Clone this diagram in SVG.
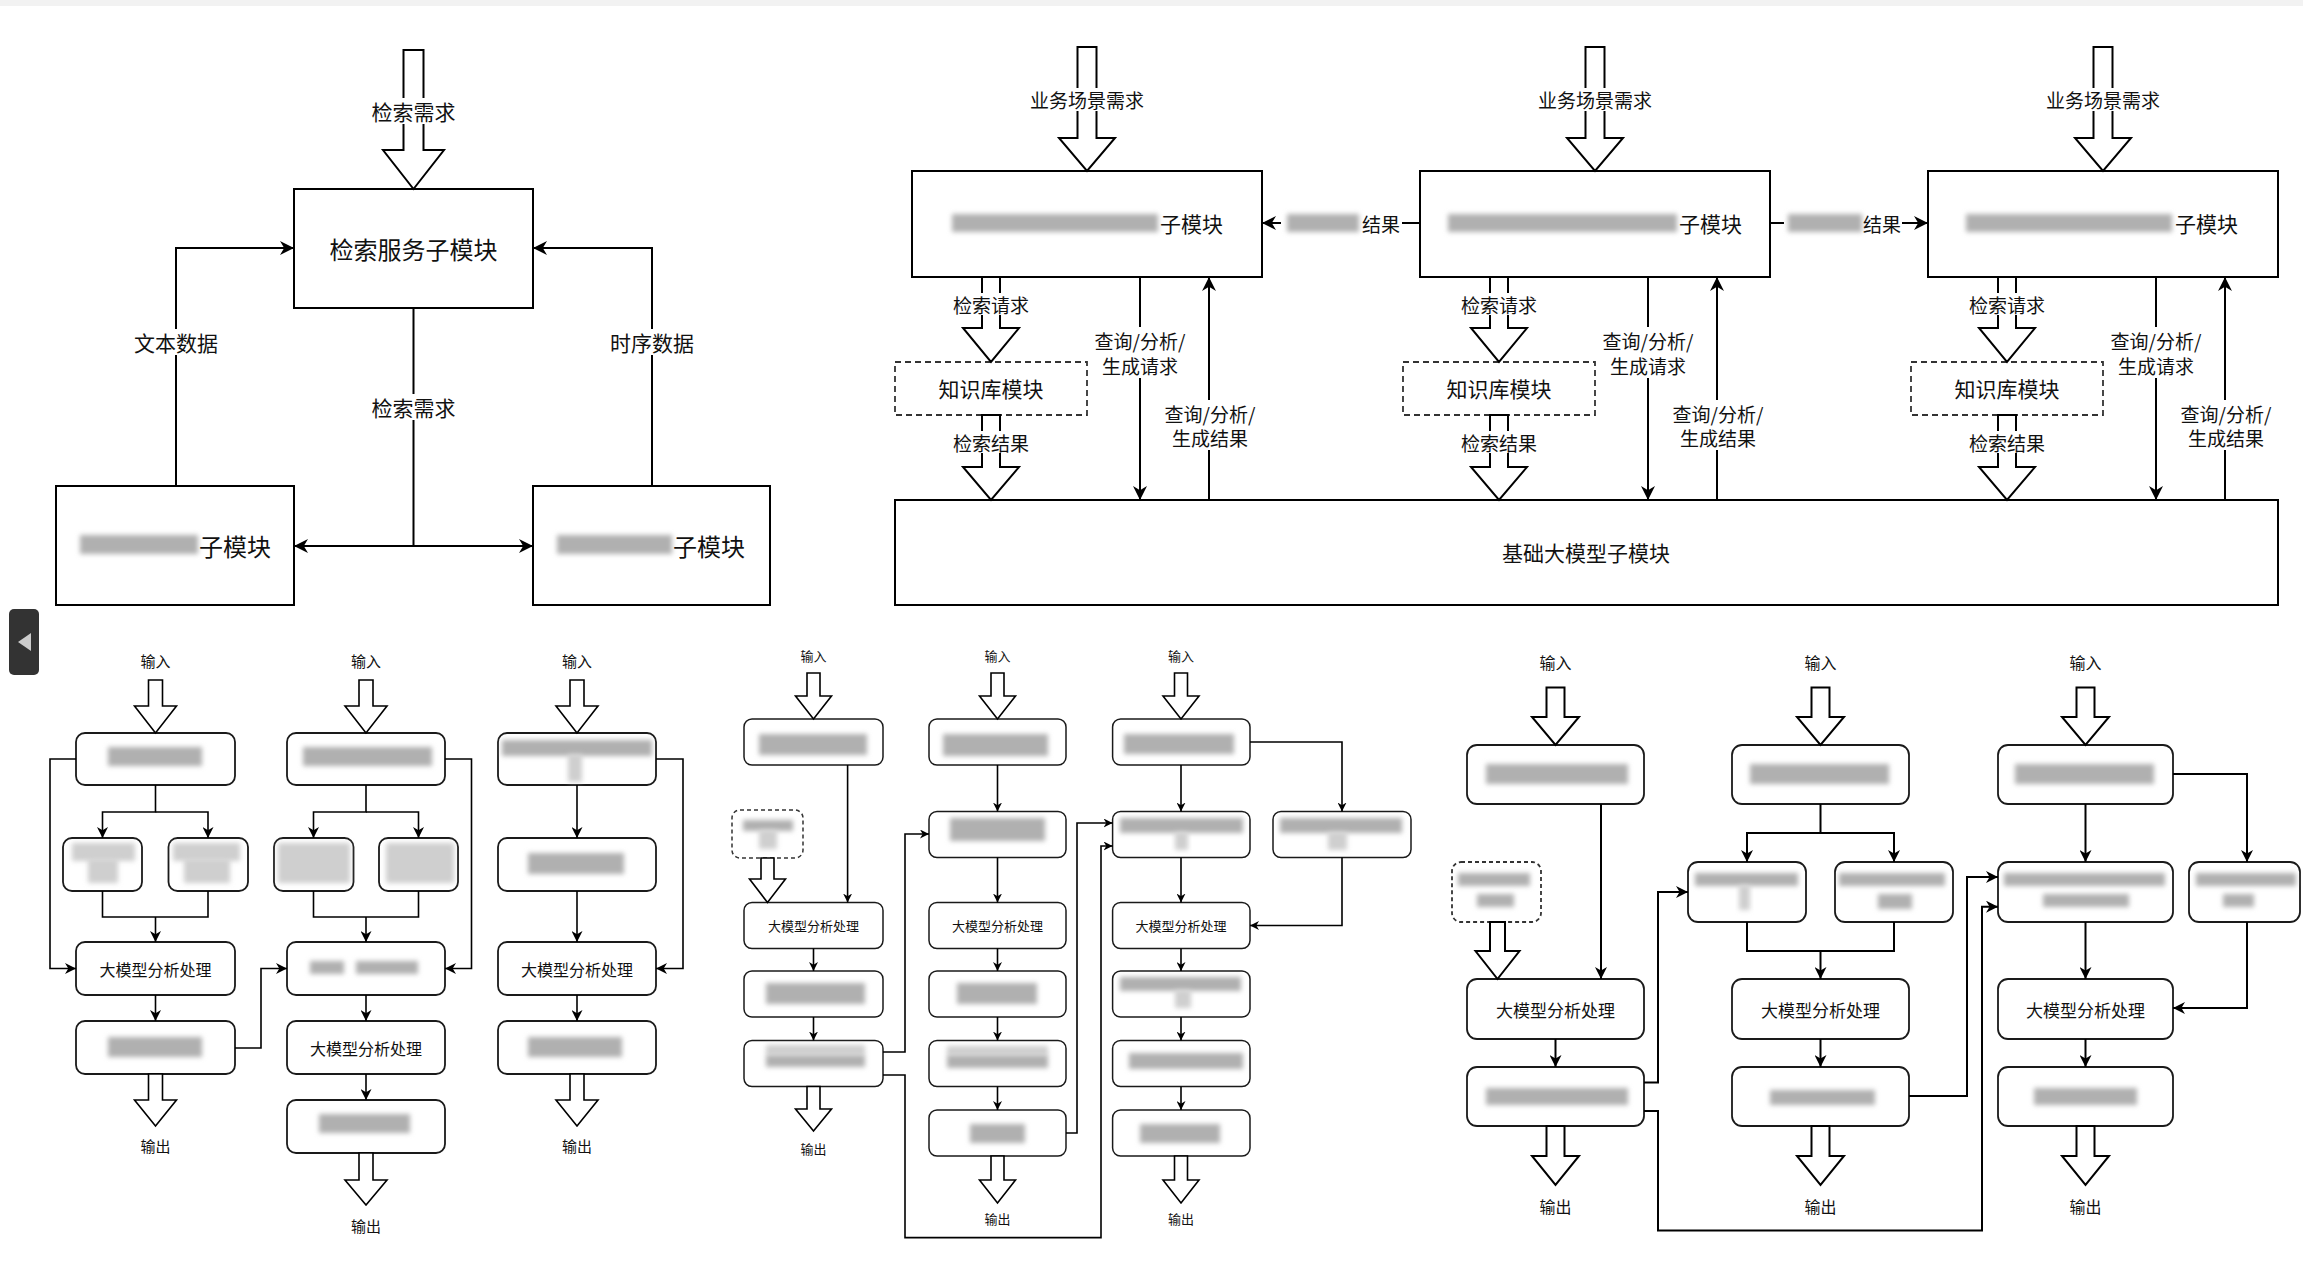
<svg xmlns="http://www.w3.org/2000/svg" width="2303" height="1281" viewBox="0 0 2303 1281">
<defs>
<style>
.box{fill:#fff;stroke:#000;stroke-width:2}
.rb{fill:#fff;stroke:#1a1a1a;stroke-width:1.8}
.rbs{fill:#fff;stroke:#1a1a1a;stroke-width:1.5}
.dash{fill:#fff;stroke:#333;stroke-width:1.8;stroke-dasharray:6 4}
.ba{fill:#fff;stroke:#000;stroke-width:2;stroke-linejoin:miter}
.bas{fill:#fff;stroke:#000;stroke-width:1.6;stroke-linejoin:miter}
.ln{fill:none;stroke:#000;stroke-width:2}
.lns{fill:none;stroke:#000;stroke-width:1.6}
.t{font-family:"Noto Sans CJK SC","Noto Sans",sans-serif;fill:#111;text-anchor:middle;dominant-baseline:central}
.ts{font-family:"Noto Sans CJK SC","Noto Sans",sans-serif;fill:#111;text-anchor:start;dominant-baseline:central}
.bg{fill:#fff}
.bl{fill:#b0b0b0;filter:url(#blur)}
.bll{fill:#cfcfcf;filter:url(#blur)}
</style>
<filter id="blur" x="-30%" y="-80%" width="160%" height="260%"><feGaussianBlur stdDeviation="2.5"/></filter>
<marker id="ah" viewBox="0 0 10 10" refX="10" refY="5" markerWidth="14" markerHeight="14" markerUnits="userSpaceOnUse" orient="auto"><path d="M0,0 L10,5 L0,10 L3,5 Z" fill="#000"/></marker>
<marker id="ahs" viewBox="0 0 10 10" refX="10" refY="5" markerWidth="11" markerHeight="11" markerUnits="userSpaceOnUse" orient="auto"><path d="M0,0 L10,5 L0,10 L3,5 Z" fill="#000"/></marker>
<marker id="ahx" viewBox="0 0 10 10" refX="10" refY="5" markerWidth="9" markerHeight="9" markerUnits="userSpaceOnUse" orient="auto"><path d="M0,0 L10,5 L0,10 L3,5 Z" fill="#000"/></marker>
<marker id="ahc" viewBox="0 0 10 10" refX="10" refY="5" markerWidth="12" markerHeight="12" markerUnits="userSpaceOnUse" orient="auto"><path d="M0,0 L10,5 L0,10 L3,5 Z" fill="#000"/></marker>
</defs>
<rect x="0" y="0" width="2303" height="1281" fill="#fff"/>
<rect x="0" y="0" width="2303" height="6" fill="#f2f2f2"/>
<g id="side-tab"><rect x="9" y="609" width="30" height="66" rx="5" fill="#333"/><polygon points="18,642 31,633 31,651" fill="#ccc"/></g>

<!-- ===== Top-left nodes ===== -->
<g id="tl-search"><rect class="box" x="294" y="189" width="239" height="119"/><text class="t" x="413.5" y="248" font-size="24">检索服务子模块</text></g>
<g id="tl-left"><rect class="box" x="56" y="486" width="238" height="119"/><rect class="bl" x="80" y="535" width="118" height="19"/><text class="ts" x="199" y="545" font-size="24">子模块</text></g>
<g id="tl-right"><rect class="box" x="533" y="486" width="237" height="119"/><rect class="bl" x="557" y="535" width="115" height="19"/><text class="ts" x="673" y="545" font-size="24">子模块</text></g>

<!-- ===== Top-right nodes ===== -->
<g id="tr-box1"><rect class="box" x="912" y="171" width="350" height="106"/><rect class="bl" x="952" y="214" width="206" height="18"/><text class="ts" x="1160" y="223" font-size="21">子模块</text></g>
<g id="tr-box2"><rect class="box" x="1420" y="171" width="350" height="106"/><rect class="bl" x="1448" y="214" width="229" height="18"/><text class="ts" x="1679" y="223" font-size="21">子模块</text></g>
<g id="tr-box3"><rect class="box" x="1928" y="171" width="350" height="106"/><rect class="bl" x="1966" y="214" width="206" height="18"/><text class="ts" x="2175" y="223" font-size="21">子模块</text></g>
<g id="tr-kb1"><rect class="dash" x="895" y="362" width="192" height="53"/><text class="t" x="991" y="388" font-size="21">知识库模块</text></g>
<g id="tr-kb2"><rect class="dash" x="1403" y="362" width="192" height="53"/><text class="t" x="1499" y="388" font-size="21">知识库模块</text></g>
<g id="tr-kb3"><rect class="dash" x="1911" y="362" width="192" height="53"/><text class="t" x="2007" y="388" font-size="21">知识库模块</text></g>
<g id="tr-base"><rect class="box" x="895" y="500" width="1383" height="105"/><text class="t" x="1586" y="552" font-size="21">基础大模型子模块</text></g>

<!-- ===== Section A nodes ===== -->
<g id="a1"><rect class="rb" x="76" y="733" width="159" height="52" rx="9"/><rect class="bl" x="108" y="747" width="94" height="19"/></g>
<g id="a2l"><rect class="rb" x="63" y="838" width="79" height="53" rx="9"/><rect class="bll" x="72" y="843" width="63" height="18"/><rect class="bll" x="88" y="859" width="30" height="24"/></g>
<g id="a2r"><rect class="rb" x="168.5" y="838" width="79.5" height="53" rx="9"/><rect class="bll" x="173" y="843" width="67" height="18"/><rect class="bll" x="184" y="859" width="46" height="24"/></g>
<g id="a3"><rect class="rb" x="76" y="942" width="159" height="53" rx="9"/><text class="t" x="155.5" y="968.5" font-size="16">大模型分析处理</text></g>
<g id="a4"><rect class="rb" x="76" y="1021" width="159" height="53" rx="9"/><rect class="bl" x="108" y="1037" width="94" height="20"/></g>

<g id="b1"><rect class="rb" x="287" y="733" width="158" height="52" rx="9"/><rect class="bl" x="303" y="747" width="129" height="19"/></g>
<g id="b2l"><rect class="rb" x="274" y="838" width="79.5" height="53" rx="9"/><rect class="bll" x="278" y="843" width="72" height="40"/></g>
<g id="b2r"><rect class="rb" x="379" y="838" width="79" height="53" rx="9"/><rect class="bll" x="386" y="843" width="68" height="40"/></g>
<g id="b3"><rect class="rb" x="287" y="942" width="158" height="53" rx="9"/><rect class="bl" x="310" y="961" width="34" height="13"/><rect class="bl" x="356" y="961" width="62" height="13"/></g>
<g id="b4"><rect class="rb" x="287" y="1021" width="158" height="53" rx="9"/><text class="t" x="366" y="1047.5" font-size="16">大模型分析处理</text></g>
<g id="b5"><rect class="rb" x="287" y="1100" width="158" height="53" rx="9"/><rect class="bl" x="319" y="1114" width="91" height="19"/></g>

<g id="c1"><rect class="rb" x="498" y="733" width="158" height="52" rx="9"/><rect class="bl" x="502" y="740" width="150" height="16"/><rect class="bll" x="568" y="754" width="14" height="28"/></g>
<g id="c2"><rect class="rb" x="498" y="838" width="158" height="53" rx="9"/><rect class="bl" x="528" y="853" width="96" height="21"/></g>
<g id="c3"><rect class="rb" x="498" y="942" width="158" height="53" rx="9"/><text class="t" x="577" y="968.5" font-size="16">大模型分析处理</text></g>
<g id="c4"><rect class="rb" x="498" y="1021" width="158" height="53" rx="9"/><rect class="bl" x="528" y="1037" width="94" height="20"/></g>

<!-- ===== Section B nodes ===== -->
<g id="d1"><rect class="rbs" x="744" y="719" width="139" height="46" rx="8"/><rect class="bl" x="759" y="734" width="108" height="21"/></g>
<g id="d-kb"><rect class="dash" x="732" y="810" width="71" height="48" rx="8" style="stroke-width:1.5;stroke-dasharray:4 3"/><rect class="bl" x="743" y="820" width="50" height="11"/><rect class="bll" x="759" y="830" width="18" height="19"/></g>
<g id="d2"><rect class="rbs" x="744" y="902.5" width="139" height="46" rx="8"/><text class="t" x="813.5" y="925.5" font-size="13">大模型分析处理</text></g>
<g id="d3"><rect class="rbs" x="744" y="971" width="139" height="46" rx="8"/><rect class="bl" x="766" y="983" width="99" height="21"/></g>
<g id="d4"><rect class="rbs" x="744" y="1040.5" width="139" height="46" rx="8"/><rect class="bll" x="766" y="1045" width="99" height="10"/><rect class="bl" x="766" y="1055" width="99" height="12"/></g>

<g id="e1"><rect class="rbs" x="929" y="719" width="137" height="46" rx="8"/><rect class="bl" x="943" y="734" width="105" height="22"/></g>
<g id="e2"><rect class="rbs" x="929" y="811.5" width="137" height="46" rx="8"/><rect class="bl" x="950" y="818" width="95" height="23"/></g>
<g id="e3"><rect class="rbs" x="929" y="902.5" width="137" height="46" rx="8"/><text class="t" x="997.5" y="925.5" font-size="13">大模型分析处理</text></g>
<g id="e4"><rect class="rbs" x="929" y="971" width="137" height="46" rx="8"/><rect class="bl" x="957" y="983" width="80" height="21"/></g>
<g id="e5"><rect class="rbs" x="929" y="1040.5" width="137" height="46" rx="8"/><rect class="bll" x="947" y="1046" width="101" height="9"/><rect class="bl" x="947" y="1055" width="101" height="13"/></g>
<g id="e6"><rect class="rbs" x="929" y="1110" width="137" height="46" rx="8"/><rect class="bl" x="970" y="1124" width="55" height="19"/></g>

<g id="f1"><rect class="rbs" x="1112.6" y="719" width="137.4" height="46" rx="8"/><rect class="bl" x="1124" y="734" width="110" height="20"/></g>
<g id="f2"><rect class="rbs" x="1112.6" y="811.5" width="137.4" height="46" rx="8"/><rect class="bl" x="1120" y="818" width="123" height="15"/><rect class="bll" x="1175" y="832" width="13" height="18"/></g>
<g id="f3"><rect class="rbs" x="1112.6" y="902.5" width="137.4" height="46" rx="8"/><text class="t" x="1181" y="925.5" font-size="13">大模型分析处理</text></g>
<g id="f4"><rect class="rbs" x="1112.6" y="971" width="137.4" height="46" rx="8"/><rect class="bl" x="1120" y="977" width="121" height="14"/><rect class="bll" x="1175" y="990" width="16" height="18"/></g>
<g id="f5"><rect class="rbs" x="1112.6" y="1040.5" width="137.4" height="46" rx="8"/><rect class="bl" x="1129" y="1053" width="114" height="16"/></g>
<g id="f6"><rect class="rbs" x="1112.6" y="1110" width="137.4" height="46" rx="8"/><rect class="bl" x="1140" y="1124" width="80" height="19"/></g>
<g id="g1"><rect class="rbs" x="1273" y="811.5" width="138" height="46" rx="8"/><rect class="bl" x="1280" y="818" width="122" height="15"/><rect class="bll" x="1328" y="832" width="19" height="18"/></g>

<!-- ===== Section C nodes ===== -->
<g id="h1"><rect class="rb" x="1467" y="745" width="177" height="59" rx="10"/><rect class="bl" x="1486" y="764" width="142" height="20"/></g>
<g id="h-kb"><rect class="dash" x="1452" y="862" width="89" height="60" rx="9" style="stroke-dasharray:4 3"/><rect class="bl" x="1458" y="873" width="72" height="13"/><rect class="bl" x="1477" y="894" width="37" height="13"/></g>
<g id="h2"><rect class="rb" x="1467" y="979" width="177" height="60" rx="10"/><text class="t" x="1555.5" y="1009" font-size="17">大模型分析处理</text></g>
<g id="h3"><rect class="rb" x="1467" y="1067" width="177" height="59" rx="10"/><rect class="bl" x="1486" y="1088" width="142" height="17"/></g>

<g id="i1"><rect class="rb" x="1732" y="745" width="177" height="59" rx="10"/><rect class="bl" x="1750" y="764" width="139" height="20"/></g>
<g id="i2a"><rect class="rb" x="1688" y="862" width="118" height="60" rx="10"/><rect class="bl" x="1695" y="873" width="103" height="13"/><rect class="bll" x="1739" y="885" width="11" height="25"/></g>
<g id="i2b"><rect class="rb" x="1835" y="862" width="118" height="60" rx="10"/><rect class="bl" x="1839" y="873" width="106" height="13"/><rect class="bl" x="1878" y="894" width="34" height="15"/></g>
<g id="i3"><rect class="rb" x="1732" y="979" width="177" height="60" rx="10"/><text class="t" x="1820.5" y="1009" font-size="17">大模型分析处理</text></g>
<g id="i4"><rect class="rb" x="1732" y="1067" width="177" height="59" rx="10"/><rect class="bl" x="1770" y="1090" width="105" height="15"/></g>

<g id="j1"><rect class="rb" x="1998" y="745" width="175" height="59" rx="10"/><rect class="bl" x="2015" y="764" width="139" height="20"/></g>
<g id="j2"><rect class="rb" x="1998" y="862" width="175" height="60" rx="10"/><rect class="bl" x="2004" y="873" width="161" height="13"/><rect class="bl" x="2043" y="894" width="86" height="13"/></g>
<g id="j3"><rect class="rb" x="1998" y="979" width="175" height="60" rx="10"/><text class="t" x="2085.5" y="1009" font-size="17">大模型分析处理</text></g>
<g id="j4"><rect class="rb" x="1998" y="1067" width="175" height="59" rx="10"/><rect class="bl" x="2034" y="1088" width="103" height="17"/></g>
<g id="k1"><rect class="rb" x="2189" y="862" width="111" height="60" rx="10"/><rect class="bl" x="2196" y="873" width="100" height="13"/><rect class="bl" x="2223" y="894" width="31" height="13"/></g>

<!-- ===== Connectors ===== -->
<g id="connectors">
<!-- top-left -->
<path class="ba" d="M403.5,50 H423.5 V150 H444 L413.5,189 L383,150 H403.5 Z"/>
<rect class="bg" x="369" y="98" width="89" height="26"/><text class="t" x="413.5" y="111" font-size="21">检索需求</text>
<path class="ln" d="M176,486 V248 H294" marker-end="url(#ah)"/>
<path class="ln" d="M652,486 V248 H533" marker-end="url(#ah)"/>
<path class="ln" d="M413.5,308 V546 H294" marker-end="url(#ah)"/>
<path class="ln" d="M413.5,546 H533" marker-end="url(#ah)"/>
<rect class="bg" x="131" y="329" width="90" height="26"/><text class="t" x="176" y="342" font-size="21">文本数据</text>
<rect class="bg" x="607" y="329" width="90" height="26"/><text class="t" x="652" y="342" font-size="21">时序数据</text>
<rect class="bg" x="369" y="394" width="89" height="26"/><text class="t" x="413.5" y="407" font-size="21">检索需求</text>

<!-- top-right -->
<path class="ba" d="M1077.5,47 H1096.5 V138 H1115 L1087,171 L1059,138 H1077.5 Z"/>
<path class="ba" d="M1585.5,47 H1604.5 V138 H1623 L1595,171 L1567,138 H1585.5 Z"/>
<path class="ba" d="M2093.5,47 H2112.5 V138 H2131 L2103,171 L2075,138 H2093.5 Z"/>
<rect class="bg" x="1029" y="88" width="116" height="23"/><text class="t" x="1087" y="99" font-size="19">业务场景需求</text>
<rect class="bg" x="1537" y="88" width="116" height="23"/><text class="t" x="1595" y="99" font-size="19">业务场景需求</text>
<rect class="bg" x="2045" y="88" width="116" height="23"/><text class="t" x="2103" y="99" font-size="19">业务场景需求</text>

<path class="ln" d="M1420,223 H1262" marker-end="url(#ah)"/>
<rect class="bg" x="1281" y="211" width="121" height="24"/><rect class="bl" x="1287" y="214" width="72" height="18"/><text class="ts" x="1362" y="223" font-size="19">结果</text>
<path class="ln" d="M1770,223 H1928" marker-end="url(#ah)"/>
<rect class="bg" x="1784" y="211" width="118" height="24"/><rect class="bl" x="1788" y="214" width="74" height="18"/><text class="ts" x="1863" y="223" font-size="19">结果</text>

<path class="ba" d="M982,277 H1000 V328 H1019 L991,362 L963,328 H982 Z"/>
<path class="ba" d="M1490,277 H1508 V328 H1527 L1499,362 L1471,328 H1490 Z"/>
<path class="ba" d="M1998,277 H2016 V328 H2035 L2007,362 L1979,328 H1998 Z"/>
<path class="ba" d="M982,415 H1000 V467 H1019 L991,500 L963,467 H982 Z"/>
<path class="ba" d="M1490,415 H1508 V467 H1527 L1499,500 L1471,467 H1490 Z"/>
<path class="ba" d="M1998,415 H2016 V467 H2035 L2007,500 L1979,467 H1998 Z"/>
<rect class="bg" x="952" y="293" width="78" height="22"/><text class="t" x="991" y="304" font-size="19">检索请求</text>
<rect class="bg" x="1460" y="293" width="78" height="22"/><text class="t" x="1499" y="304" font-size="19">检索请求</text>
<rect class="bg" x="1968" y="293" width="78" height="22"/><text class="t" x="2007" y="304" font-size="19">检索请求</text>
<rect class="bg" x="952" y="431" width="78" height="22"/><text class="t" x="991" y="442" font-size="19">检索结果</text>
<rect class="bg" x="1460" y="431" width="78" height="22"/><text class="t" x="1499" y="442" font-size="19">检索结果</text>
<rect class="bg" x="1968" y="431" width="78" height="22"/><text class="t" x="2007" y="442" font-size="19">检索结果</text>

<path class="ln" d="M1140,277 V500" marker-end="url(#ah)"/>
<path class="ln" d="M1209,500 V277" marker-end="url(#ah)"/>
<path class="ln" d="M1648,277 V500" marker-end="url(#ah)"/>
<path class="ln" d="M1717,500 V277" marker-end="url(#ah)"/>
<path class="ln" d="M2156,277 V500" marker-end="url(#ah)"/>
<path class="ln" d="M2225,500 V277" marker-end="url(#ah)"/>
<rect class="bg" x="1094" y="327" width="92" height="51"/><text class="t" x="1140" y="340" font-size="19">查询/分析/</text><text class="t" x="1140" y="365" font-size="19">生成请求</text>
<rect class="bg" x="1164" y="400" width="92" height="50"/><text class="t" x="1210" y="413" font-size="19">查询/分析/</text><text class="t" x="1210" y="437" font-size="19">生成结果</text>
<rect class="bg" x="1602" y="327" width="92" height="51"/><text class="t" x="1648" y="340" font-size="19">查询/分析/</text><text class="t" x="1648" y="365" font-size="19">生成请求</text>
<rect class="bg" x="1672" y="400" width="92" height="50"/><text class="t" x="1718" y="413" font-size="19">查询/分析/</text><text class="t" x="1718" y="437" font-size="19">生成结果</text>
<rect class="bg" x="2110" y="327" width="92" height="51"/><text class="t" x="2156" y="340" font-size="19">查询/分析/</text><text class="t" x="2156" y="365" font-size="19">生成请求</text>
<rect class="bg" x="2180" y="400" width="92" height="50"/><text class="t" x="2226" y="413" font-size="19">查询/分析/</text><text class="t" x="2226" y="437" font-size="19">生成结果</text>

<!-- Section A -->
<text class="t" x="155.5" y="660" font-size="15">输入</text>
<text class="t" x="366" y="660" font-size="15">输入</text>
<text class="t" x="577" y="660" font-size="15">输入</text>
<path class="bas" d="M148.5,680 H162.5 V706 H176.5 L155.5,733 L134.5,706 H148.5 Z"/>
<path class="bas" d="M359,680 H373 V706 H387 L366,733 L345,706 H359 Z"/>
<path class="bas" d="M570,680 H584 V706 H598 L577,733 L556,706 H570 Z"/>
<path class="bas" d="M148.5,1074 H162.5 V1100 H176.5 L155.5,1126 L134.5,1100 H148.5 Z"/>
<path class="bas" d="M359,1153 H373 V1180 H387 L366,1205 L345,1180 H359 Z"/>
<path class="bas" d="M570,1074 H584 V1100 H598 L577,1126 L556,1100 H570 Z"/>
<text class="t" x="155.5" y="1145" font-size="15">输出</text>
<text class="t" x="366" y="1225" font-size="15">输出</text>
<text class="t" x="577" y="1145" font-size="15">输出</text>

<path class="lns" d="M155.5,785 V812 H102.5 V838" marker-end="url(#ahs)"/>
<path class="lns" d="M155.5,812 H208 V838" marker-end="url(#ahs)"/>
<path class="lns" d="M102.5,891 V917 H208 V891"/>
<path class="lns" d="M155.5,917 V942" marker-end="url(#ahs)"/>
<path class="lns" d="M76,759 H50 V968.5 H76" marker-end="url(#ahs)"/>
<path class="lns" d="M155.5,995 V1021" marker-end="url(#ahs)"/>
<path class="lns" d="M235,1048 H261 V968.5 H287" marker-end="url(#ahs)"/>

<path class="lns" d="M366,785 V812 H313.5 V838" marker-end="url(#ahs)"/>
<path class="lns" d="M366,812 H418.5 V838" marker-end="url(#ahs)"/>
<path class="lns" d="M313.5,891 V917 H418.5 V891"/>
<path class="lns" d="M366,917 V942" marker-end="url(#ahs)"/>
<path class="lns" d="M445,759 H471.5 V968.5 H445" marker-end="url(#ahs)"/>
<path class="lns" d="M366,995 V1021" marker-end="url(#ahs)"/>
<path class="lns" d="M366,1074 V1100" marker-end="url(#ahs)"/>

<path class="lns" d="M577,785 V838" marker-end="url(#ahs)"/>
<path class="lns" d="M577,891 V942" marker-end="url(#ahs)"/>
<path class="lns" d="M656,759 H683 V968.5 H656" marker-end="url(#ahs)"/>
<path class="lns" d="M577,995 V1021" marker-end="url(#ahs)"/>

<!-- Section B -->
<text class="t" x="813.5" y="655" font-size="13">输入</text>
<text class="t" x="997.5" y="655" font-size="13">输入</text>
<text class="t" x="1181" y="655" font-size="13">输入</text>
<path class="bas" d="M807,673 H820 V696 H831.5 L813.5,719 L795.5,696 H807 Z"/>
<path class="bas" d="M991,673 H1004 V696 H1015.5 L997.5,719 L979.5,696 H991 Z"/>
<path class="bas" d="M1174.5,673 H1187.5 V696 H1199 L1181,719 L1163,696 H1174.5 Z"/>
<path class="bas" d="M761,858 H774 V879 H785.5 L767.5,902.5 L749.5,879 H761 Z"/>
<path class="bas" d="M807,1086.5 H820 V1109 H831.5 L813.5,1131 L795.5,1109 H807 Z"/>
<path class="bas" d="M991,1156 H1004 V1180 H1015.5 L997.5,1203 L979.5,1180 H991 Z"/>
<path class="bas" d="M1174.5,1156 H1187.5 V1180 H1199 L1181,1203 L1163,1180 H1174.5 Z"/>
<text class="t" x="813.5" y="1148" font-size="13">输出</text>
<text class="t" x="997.5" y="1218" font-size="13">输出</text>
<text class="t" x="1181" y="1218" font-size="13">输出</text>

<path class="lns" d="M847.6,765 V902.5" marker-end="url(#ahx)"/>
<path class="lns" d="M813.5,948.5 V971" marker-end="url(#ahx)"/>
<path class="lns" d="M813.5,1017 V1040.5" marker-end="url(#ahx)"/>
<path class="lns" d="M883,1052 H905 V834 H929" marker-end="url(#ahx)"/>
<path class="lns" d="M883,1075 H905 V1237.6 H1101 V846 H1112.6" marker-end="url(#ahx)"/>

<path class="lns" d="M997.5,765 V811.5" marker-end="url(#ahx)"/>
<path class="lns" d="M997.5,857.5 V902.5" marker-end="url(#ahx)"/>
<path class="lns" d="M997.5,948.5 V971" marker-end="url(#ahx)"/>
<path class="lns" d="M997.5,1017 V1040.5" marker-end="url(#ahx)"/>
<path class="lns" d="M997.5,1086.5 V1110" marker-end="url(#ahx)"/>
<path class="lns" d="M1066,1133 H1077 V823 H1112.6" marker-end="url(#ahx)"/>

<path class="lns" d="M1181,765 V811.5" marker-end="url(#ahx)"/>
<path class="lns" d="M1181,857.5 V902.5" marker-end="url(#ahx)"/>
<path class="lns" d="M1181,948.5 V971" marker-end="url(#ahx)"/>
<path class="lns" d="M1181,1017 V1040.5" marker-end="url(#ahx)"/>
<path class="lns" d="M1181,1086.5 V1110" marker-end="url(#ahx)"/>
<path class="lns" d="M1250,742 H1342 V811.5" marker-end="url(#ahx)"/>
<path class="lns" d="M1342,857.5 V925.5 H1250" marker-end="url(#ahx)"/>

<!-- Section C -->
<text class="t" x="1555.5" y="662" font-size="16">输入</text>
<text class="t" x="1820.5" y="662" font-size="16">输入</text>
<text class="t" x="2085.5" y="662" font-size="16">输入</text>
<path class="ba" d="M1546.5,687.5 H1564.5 V717 H1579 L1555.5,745 L1532,717 H1546.5 Z"/>
<path class="ba" d="M1811.5,687.5 H1829.5 V717 H1844 L1820.5,745 L1797,717 H1811.5 Z"/>
<path class="ba" d="M2076.5,687.5 H2094.5 V717 H2109 L2085.5,745 L2062,717 H2076.5 Z"/>
<path class="ba" d="M1490,922 H1505 V951 H1519.5 L1497.5,979 L1475.5,951 H1490 Z"/>
<path class="ba" d="M1546.5,1126 H1564.5 V1156 H1579 L1555.5,1185 L1532,1156 H1546.5 Z"/>
<path class="ba" d="M1811.5,1126 H1829.5 V1156 H1844 L1820.5,1185 L1797,1156 H1811.5 Z"/>
<path class="ba" d="M2076.5,1126 H2094.5 V1156 H2109 L2085.5,1185 L2062,1156 H2076.5 Z"/>
<text class="t" x="1555.5" y="1206" font-size="16">输出</text>
<text class="t" x="1820.5" y="1206" font-size="16">输出</text>
<text class="t" x="2085.5" y="1206" font-size="16">输出</text>

<path class="ln" d="M1601,804 V979" marker-end="url(#ahc)"/>
<path class="ln" d="M1555.5,1039 V1067" marker-end="url(#ahc)"/>
<path class="ln" d="M1644,1082.5 H1658 V892 H1688" marker-end="url(#ahc)"/>
<path class="ln" d="M1644,1111 H1658 V1230.5 H1982 V906.7 H1998" marker-end="url(#ahc)"/>

<path class="ln" d="M1820.5,804 V833 H1747 V862" marker-end="url(#ahc)"/>
<path class="ln" d="M1820.5,833 H1894 V862" marker-end="url(#ahc)"/>
<path class="ln" d="M1747,922 V951 H1894 V922"/>
<path class="ln" d="M1820.5,951 V979" marker-end="url(#ahc)"/>
<path class="ln" d="M1820.5,1039 V1067" marker-end="url(#ahc)"/>
<path class="ln" d="M1909,1096 H1967 V877 H1998" marker-end="url(#ahc)"/>

<path class="ln" d="M2085.5,804 V862" marker-end="url(#ahc)"/>
<path class="ln" d="M2085.5,922 V979" marker-end="url(#ahc)"/>
<path class="ln" d="M2085.5,1039 V1067" marker-end="url(#ahc)"/>
<path class="ln" d="M2173,774 H2247 V862" marker-end="url(#ahc)"/>
<path class="ln" d="M2247,922 V1008 H2173" marker-end="url(#ahc)"/>
</g>
</svg>
